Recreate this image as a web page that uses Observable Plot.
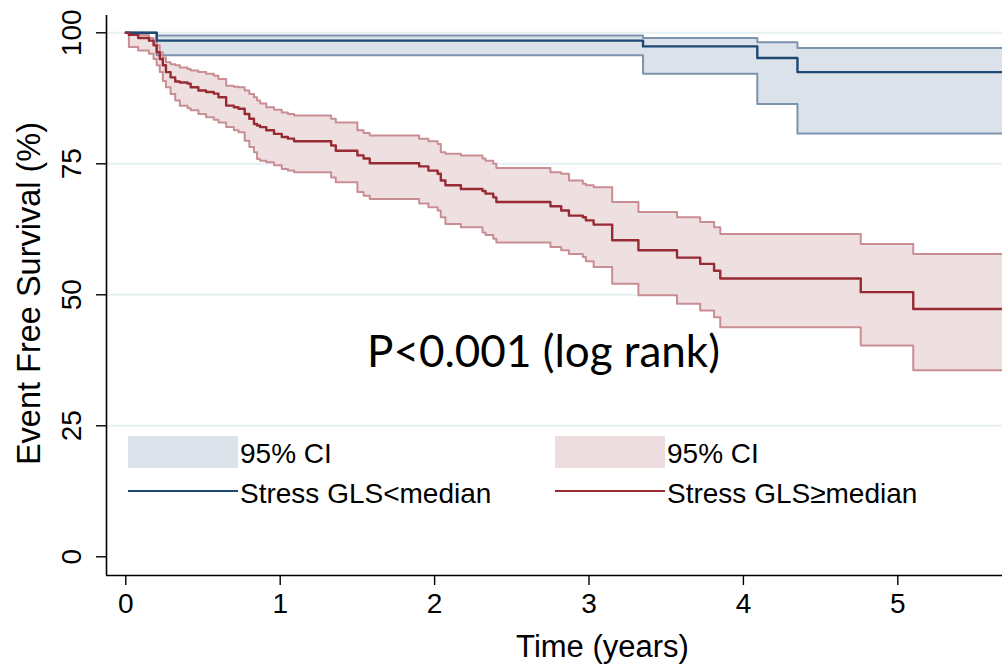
<!DOCTYPE html>
<html>
<head>
<meta charset="utf-8">
<script src="https://cdn.jsdelivr.net/npm/d3@7"></script>
<script src="https://cdn.jsdelivr.net/npm/@observablehq/plot@0.6"></script>
<style>
  html, body { margin: 0; padding: 0; background: #fff; overflow: hidden; }
  #wrap { position: relative; width: 1002px; height: 671px; }
  #wrap svg { position: absolute; left: 0; top: 0; }
  .lg { position: absolute; font-family: "Liberation Sans", Arial, sans-serif; font-size: 28px; color: #000; white-space: nowrap; line-height: 1; }
  .sw { position: absolute; }
  #pval { position: absolute; font-family: Lato, "Open Sans", sans-serif; font-size: 44px; color: #000; white-space: nowrap; line-height: 1; }
</style>
</head>
<body>
<div id="wrap"></div>
<script>
// ---- Data ----
// Stress GLS < median (blue)
const blueTime = [0, 0.20, 3.35, 4.09, 4.35, 5.68];
const blueSurv = [100, 98.5, 97.4, 95.2, 92.5, 92.5];
const blueLow  = [100, 95.7, 92.2, 86.4, 80.8, 80.8];
const blueHigh = [100, 99.5, 99.0, 98.2, 97.1, 97.1];

// Stress GLS >= median (red)
const redTime = [0, 0.02, 0.08, 0.15, 0.18, 0.20, 0.22, 0.24, 0.26, 0.29, 0.32, 0.35, 0.40, 0.42, 0.47, 0.52, 0.57, 0.60, 0.65, 0.70, 0.73, 0.77, 0.80, 0.83, 0.85, 0.87, 0.91, 0.96, 1.01, 1.05, 1.09, 1.33, 1.36, 1.50, 1.54, 1.58, 1.90, 1.96, 2.02, 2.04, 2.07, 2.17, 2.31, 2.33, 2.38, 2.40, 2.75, 2.82, 2.87, 2.96, 2.98, 3.03, 3.15, 3.32, 3.57, 3.72, 3.81, 3.85, 4.76, 5.10, 5.68];
const redSurv = [100, 99.6, 99.0, 98.5, 97.6, 96.3, 95.0, 93.8, 92.5, 91.5, 90.7, 90.5, 90.3, 89.6, 89.0, 88.7, 88.4, 87.7, 86.1, 85.8, 85.5, 84.5, 83.6, 82.6, 82.3, 82.0, 81.4, 80.7, 80.1, 79.8, 79.3, 78.5, 77.5, 76.6, 76.0, 75.1, 74.5, 73.7, 73.1, 71.8, 70.9, 70.2, 69.8, 69.3, 68.6, 67.7, 66.9, 66.1, 65.1, 64.8, 64.2, 63.4, 60.4, 58.5, 57.1, 55.9, 54.6, 53.1, 50.5, 47.3, 47.3];
const redLow  = [100, 97.3, 96.6, 96.0, 95.0, 93.8, 92.5, 90.8, 89.6, 88.3, 87.1, 86.1, 85.6, 85.2, 84.5, 83.9, 83.4, 82.9, 82.0, 81.4, 81.0, 79.4, 78.2, 77.2, 75.9, 75.6, 75.3, 74.7, 74.0, 73.7, 73.4, 72.4, 71.5, 69.6, 68.9, 68.3, 67.4, 66.7, 66.1, 64.8, 63.5, 62.9, 61.9, 61.4, 60.7, 60.0, 59.1, 58.5, 57.8, 57.2, 56.4, 55.3, 52.1, 49.9, 48.3, 47.0, 45.7, 43.8, 40.3, 35.6, 35.6];
const redHigh = [100, 100, 99.6, 99.0, 98.2, 97.6, 96.3, 95.3, 94.4, 94.0, 93.8, 93.4, 93.1, 92.8, 92.5, 92.2, 91.8, 91.2, 89.9, 89.7, 89.6, 89.0, 88.3, 87.7, 87.1, 86.5, 85.8, 85.3, 84.8, 84.5, 84.2, 83.6, 82.9, 81.4, 80.9, 80.4, 79.8, 79.3, 78.8, 77.2, 76.9, 76.6, 76.0, 75.6, 75.0, 74.2, 73.4, 73.1, 71.8, 71.2, 70.9, 70.5, 67.7, 65.8, 64.8, 63.9, 62.9, 61.6, 59.7, 57.8, 57.8];

const xTicks = [0, 1, 2, 3, 4, 5];
const yTicks = [0, 25, 50, 75, 100];
const yGrid = [25, 50, 75, 100];

const xTitle = "Time (years)";
const yTitle = "Event Free Survival (%)";
const pText = "P<0.001 (log rank)";
const legendItems = [
  {label: "95% CI", kind: "band", group: "blue"},
  {label: "Stress GLS<median", kind: "line", group: "blue"},
  {label: "95% CI", kind: "band", group: "red"},
  {label: "Stress GLS\u2265median", kind: "line", group: "red"}
];

// ---- Styles ----
const C = {
  blue: {line: "#1c4a75", bound: "#7b93ad", fill: "#dce2ea"},
  red:  {line: "#982a33", bound: "#c98e93", fill: "#ecdcdd"}
};

const toRows = (t, s, lo, hi) => t.map((d, i) => ({t: d, s: s[i], lo: lo[i], hi: hi[i]}));
const blue = toRows(blueTime, blueSurv, blueLow, blueHigh);
const red = toRows(redTime, redSurv, redLow, redHigh);

const xDomain = [-0.125, 5.678];
const yDomain = [-3.57, 103.3];
const font = "Liberation Sans, Arial, sans-serif";

const chart = Plot.plot({
  width: 1002,
  height: 671,
  marginLeft: 106,
  marginRight: 0,
  marginTop: 15,
  marginBottom: 96,
  style: {fontFamily: font, background: "#fff"},
  x: {domain: xDomain},
  y: {domain: yDomain},
  marks: [
    Plot.ruleY(yGrid, {stroke: "#e6f0f3", strokeWidth: 2}),
    Plot.areaY(blue, {x: "t", y1: "lo", y2: "hi", curve: "step-after", fill: C.blue.fill}),
    Plot.areaY(red, {x: "t", y1: "lo", y2: "hi", curve: "step-after", fill: C.red.fill, fillOpacity: 0.9}),
    Plot.line(blue, {x: "t", y: "lo", curve: "step-after", stroke: C.blue.bound, strokeWidth: 2}),
    Plot.line(blue, {x: "t", y: "hi", curve: "step-after", stroke: C.blue.bound, strokeWidth: 2}),
    Plot.line(red, {x: "t", y: "lo", curve: "step-after", stroke: C.red.bound, strokeWidth: 2}),
    Plot.line(red, {x: "t", y: "hi", curve: "step-after", stroke: C.red.bound, strokeWidth: 2}),
    Plot.line(blue, {x: "t", y: "s", curve: "step-after", stroke: C.blue.line, strokeWidth: 2.4}),
    Plot.line(red, {x: "t", y: "s", curve: "step-after", stroke: C.red.line, strokeWidth: 2.4}),
    Plot.ruleX([xDomain[0]], {stroke: "#000", strokeWidth: 1.6}),
    Plot.ruleY([yDomain[0]], {stroke: "#000", strokeWidth: 1.6}),
    Plot.axisX(xTicks, {tickSize: 10, tickPadding: 8, fontSize: 28, tickFormat: d => String(d), label: null, stroke: "#000", strokeWidth: 1.4}),
    Plot.axisY(yTicks, {tickSize: 10, tickPadding: 16, tickRotate: -90, fontSize: 28, tickFormat: d => String(d), label: null, stroke: "#000", strokeWidth: 1.4}),
    Plot.text([xTitle], {frameAnchor: "bottom", textAnchor: "middle", dx: 48, dy: 72, fontSize: 31, lineAnchor: "middle", fill: "#000"}),
    Plot.text([yTitle], {frameAnchor: "left", textAnchor: "middle", rotate: -90, dx: -77, dy: -2, fontSize: 32.5, lineAnchor: "middle", fill: "#000"})
  ]
});

const wrap = document.getElementById("wrap");
wrap.appendChild(chart);

// ---- Legend (HTML overlay inside plot area) ----
const cols = {blue: 128, red: 555};
const swW = 110;
legendItems.forEach(it => {
  const x0 = cols[it.group];
  const sw = document.createElement("div");
  sw.className = "sw";
  if (it.kind === "band") {
    Object.assign(sw.style, {left: x0 + "px", top: "436px", width: swW + "px", height: "32px", background: C[it.group].fill});
  } else {
    Object.assign(sw.style, {left: x0 + "px", top: "490px", width: swW + "px", height: "2.4px", background: C[it.group].line});
  }
  wrap.appendChild(sw);
  const lab = document.createElement("div");
  lab.className = "lg";
  lab.textContent = it.label;
  lab.style.left = (x0 + swW + 2) + "px";
  lab.style.top = (it.kind === "band" ? 440 : 480) + "px";
  wrap.appendChild(lab);
});

const p = document.createElement("div");
p.id = "pval";
p.textContent = pText;
p.style.left = "367px";
p.style.top = "328px";
wrap.appendChild(p);
</script>
</body>
</html>
